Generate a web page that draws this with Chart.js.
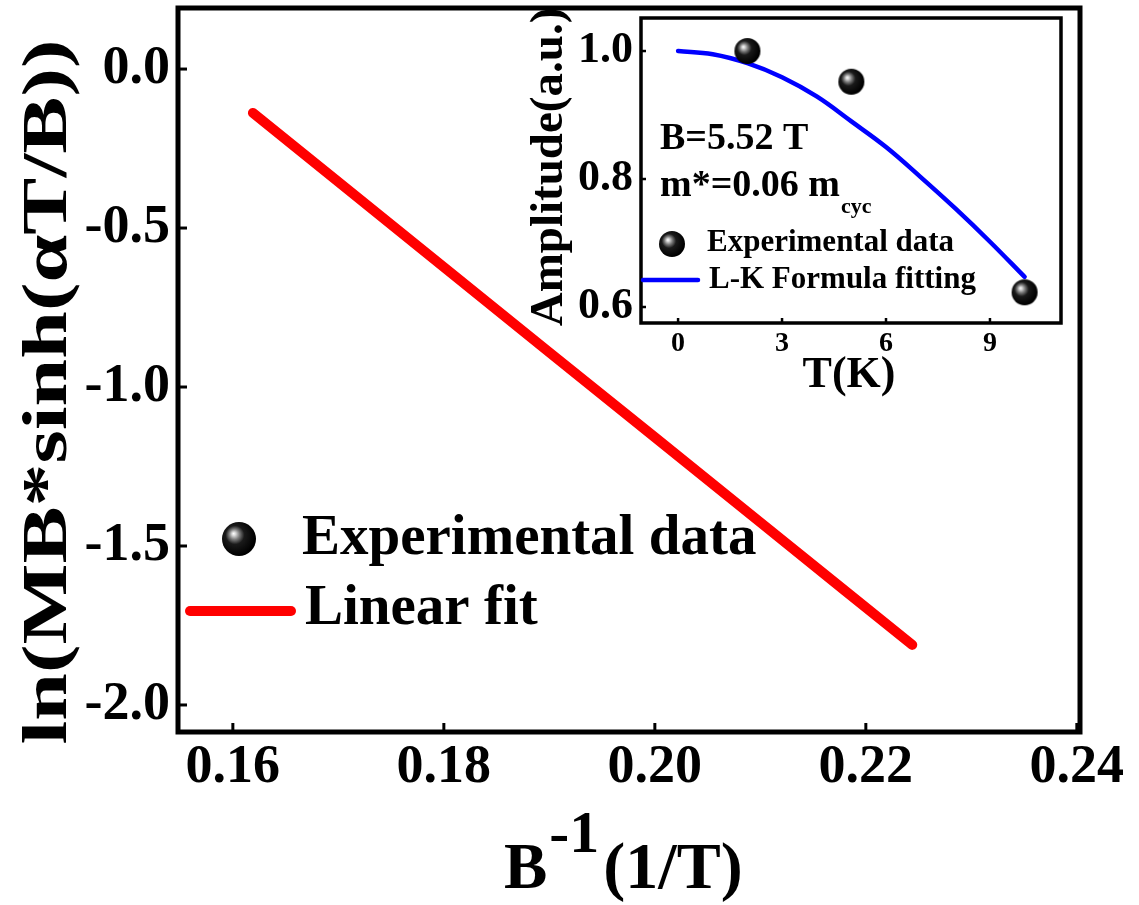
<!DOCTYPE html>
<html><head><meta charset="utf-8">
<script src="https://cdn.jsdelivr.net/npm/chart.js@4.4.1/dist/chart.umd.min.js"></script>
<style>
html,body{margin:0;padding:0;background:#fff;}
#wrap{position:relative;width:1139px;height:905px;overflow:hidden;}
#main{position:absolute;left:0;top:0;}
#insetBox{position:absolute;left:500px;top:0;width:600px;height:420px;}
</style></head><body>
<div id="wrap">
<canvas id="main" width="1139" height="905"></canvas>
<div id="insetBox"><canvas id="inset" width="600" height="420"></canvas></div>
</div>
<script>
// ---------- data ----------
const fitInvB = [0.1619, 0.1700, 0.1800, 0.1900, 0.2000, 0.2100, 0.2180, 0.2244];
const fitLn   = [-0.138, -0.355, -0.623, -0.891, -1.158, -1.426, -1.640, -1.811];
const expInvB = [];
const expLn   = [];
const mainXTicks = [0.16, 0.18, 0.20, 0.22, 0.24];
const mainYTicks = [0.0, -0.5, -1.0, -1.5, -2.0];

const insetExpT   = [2, 5, 10];
const insetExpAmp = [1.0, 0.952, 0.623];
const insetFitT   = [0, 1, 2, 3, 4, 5, 6, 7, 8, 9, 10];
const insetFitAmp = [1.0, 0.995, 0.981, 0.959, 0.929, 0.890, 0.850, 0.803, 0.754, 0.702, 0.647];
const insetXTicks = [0, 3, 6, 9];
const insetYTicks = [0.6, 0.8, 1.0];

const FONT = "'Liberation Serif','Times New Roman',serif";

function makeSphere(r){
  const s = Math.ceil(2*r+2);
  const c = document.createElement('canvas'); c.width = s; c.height = s;
  const g = c.getContext('2d'); const cx = s/2, cy = s/2;
  const grad = g.createRadialGradient(cx-0.32*r, cy-0.32*r, 0, cx-0.15*r, cy-0.15*r, r*1.1);
  grad.addColorStop(0, '#ffffff');
  grad.addColorStop(0.1, '#d8d8d8');
  grad.addColorStop(0.28, '#7a7a7a');
  grad.addColorStop(0.5, '#1a1a1a');
  grad.addColorStop(1, '#000000');
  g.fillStyle = grad; g.beginPath(); g.arc(cx, cy, r, 0, 2*Math.PI); g.fill();
  return c;
}
const sphereBig = makeSphere(17);
const sphereSmall = makeSphere(13);

const pts = (xs, ys) => xs.map((x, i) => ({x, y: ys[i]}));
const noPadX = s => { s.paddingLeft = 0; s.paddingRight = 0; };
const noPadY = s => { s.paddingTop = 0; s.paddingBottom = 0; };

// frame + inward ticks
const framePlugin = {
  id: 'frame',
  afterDraw(chart, args, o){
    const {ctx, chartArea: a, scales: {x, y}} = chart;
    ctx.save();
    ctx.strokeStyle = '#000';
    ctx.lineWidth = o.tw;
    x.ticks.forEach(t => { const px = x.getPixelForValue(t.value);
      ctx.beginPath(); ctx.moveTo(px, a.bottom); ctx.lineTo(px, a.bottom - o.tl); ctx.stroke(); });
    y.ticks.forEach(t => { const py = y.getPixelForValue(t.value);
      ctx.beginPath(); ctx.moveTo(a.left, py); ctx.lineTo(a.left + o.tl, py); ctx.stroke(); });
    ctx.lineWidth = o.lw;
    ctx.strokeRect(a.left, a.top, a.right - a.left, a.bottom - a.top);
    ctx.restore();
  }
};

// legend drawn from datasets
const legendPlugin = {
  id: 'customLegend',
  afterDraw(chart, args, o){
    const ctx = chart.ctx;
    ctx.save();
    ctx.fillStyle = '#000';
    ctx.font = `bold ${o.size}px ${FONT}`;
    ctx.textBaseline = 'alphabetic';
    chart.data.datasets.forEach((ds, i) => {
      const it = o.items[i];
      if (ds.showLine) {
        ctx.strokeStyle = ds.borderColor; ctx.lineWidth = ds.borderWidth; ctx.lineCap = 'round';
        ctx.beginPath(); ctx.moveTo(it.x0, it.y); ctx.lineTo(it.x1, it.y); ctx.stroke();
      } else {
        const img = ds.pointStyle;
        ctx.drawImage(img, it.cx - img.width/2, it.cy - img.height/2);
      }
      ctx.fillText(ds.label, it.tx, it.ty);
    });
    ctx.restore();
  }
};

// free texts (titles, annotations)
const textPlugin = {
  id: 'texts',
  afterDraw(chart, args, o){
    const ctx = chart.ctx;
    ctx.save();
    ctx.fillStyle = '#000';
    o.items.forEach(t => {
      ctx.save();
      ctx.font = `bold ${t.size}px ${FONT}`;
      ctx.textBaseline = 'alphabetic';
      ctx.translate(t.x, t.y);
      if (t.rot) ctx.rotate(t.rot);
      if (t.len) {
        const w = ctx.measureText(t.text).width;
        ctx.scale(t.len / w, 1);
      }
      ctx.textAlign = t.align || 'left';
      ctx.fillText(t.text, 0, 0);
      ctx.restore();
    });
    if (o.runs) {
      o.runs.forEach(r => {
        let x = r.x;
        r.parts.forEach(p => {
          ctx.font = `bold ${p.size}px ${FONT}`;
          ctx.textBaseline = 'alphabetic';
          ctx.textAlign = 'left';
          ctx.fillText(p.text, x + (p.dx || 0), r.y + (p.dy || 0));
          x += ctx.measureText(p.text).width + (p.dx || 0);
        });
      });
    }
    ctx.restore();
  }
};

// ---------- main chart ----------
new Chart(document.getElementById('main'), {
  type: 'scatter',
  data: {
    datasets: [
      {label: 'Experimental data', data: pts(expInvB, expLn), pointStyle: sphereBig, showLine: false},
      {label: 'Linear fit', data: pts(fitInvB, fitLn), showLine: true, borderColor: '#ff0000',
       borderWidth: 10, pointRadius: 0, borderCapStyle: 'round', borderJoinStyle: 'round', tension: 0}
    ]
  },
  options: {
    responsive: false, animation: false, devicePixelRatio: 1,
    layout: {padding: {left: 0, top: 8, right: 59, bottom: 0}},
    plugins: {
      legend: {display: false}, tooltip: {enabled: false},
      frame: {lw: 5, tw: 3, tl: 9},
      customLegend: {size: 57, items: [
        {cx: 239, cy: 539, tx: 302, ty: 554},
        {x0: 190, x1: 291, y: 611, tx: 305, ty: 624}
      ]},
      texts: {
        items: [
          {text: 'ln(MB*sinh(\u03B1T/B))', x: 66, y: 392, size: 64, rot: -Math.PI/2, align: 'center', len: 705}
        ],
        runs: [
          {x: 504, y: 888, parts: [
            {text: 'B', size: 65},
            {text: '-1', size: 60, dy: -36, dx: 2},
            {text: '(1/T)', size: 66, dx: 4}
          ]}
        ]
      }
    },
    scales: {
      x: {
        type: 'linear', min: 0.1548, max: 0.2403,
        grid: {display: false, drawTicks: false}, border: {display: false},
        afterBuildTicks: s => { s.ticks = mainXTicks.map(v => ({value: v})); },
        afterFit: s => { s.height = 173; noPadX(s); },
        ticks: {font: {family: FONT, size: 54, weight: 'bold'}, color: '#000', padding: 4,
                maxRotation: 0, autoSkip: false, callback: v => Number(v).toFixed(2)}
      },
      y: {
        type: 'linear', min: -2.085, max: 0.192,
        grid: {display: false, drawTicks: false}, border: {display: false},
        afterBuildTicks: s => { s.ticks = mainYTicks.map(v => ({value: v})); },
        afterFit: s => { s.width = 178; noPadY(s); },
        ticks: {font: {family: FONT, size: 54, weight: 'bold'}, color: '#000', padding: 8,
                autoSkip: false, callback: v => Number(v).toFixed(1)}
      }
    }
  },
  plugins: [framePlugin, legendPlugin, textPlugin]
});

// ---------- inset chart ----------
new Chart(document.getElementById('inset'), {
  type: 'scatter',
  data: {
    datasets: [
      {label: 'Experimental data', data: pts(insetExpT, insetExpAmp), pointStyle: sphereSmall, showLine: false, pointRadius: 13},
      {label: 'L-K Formula fitting', data: pts(insetFitT, insetFitAmp), showLine: true, borderColor: '#0000ff',
       borderWidth: 4.5, pointRadius: 0, tension: 0.4, borderCapStyle: 'round'}
    ]
  },
  options: {
    responsive: false, animation: false, devicePixelRatio: 1,
    layout: {padding: {left: 0, top: 18, right: 39, bottom: 0}},
    plugins: {
      legend: {display: false}, tooltip: {enabled: false},
      frame: {lw: 3.5, tw: 2.5, tl: 5},
      customLegend: {size: 31, items: [
        {cx: 172, cy: 244, tx: 207, ty: 251},
        {x0: 143, x1: 198, y: 280, tx: 209, ty: 288}
      ]},
      texts: {
        items: [
          {text: 'Amplitude(a.u.)', x: 62, y: 167, size: 47, rot: -Math.PI/2, align: 'center'},
          {text: 'T(K)', x: 349, y: 387, size: 44, align: 'center'},
          {text: 'B=5.52 T', x: 160, y: 149, size: 38}
        ],
        runs: [
          {x: 160, y: 196, parts: [
            {text: 'm*=0.06 m', size: 38},
            {text: 'cyc', size: 22, dy: 17, dx: 1}
          ]}
        ]
      }
    },
    scales: {
      x: {
        type: 'linear', min: -1.07, max: 11.05,
        grid: {display: false, drawTicks: false}, border: {display: false},
        afterBuildTicks: s => { s.ticks = insetXTicks.map(v => ({value: v})); },
        afterFit: s => { s.height = 97; noPadX(s); },
        ticks: {font: {family: FONT, size: 28, weight: 'bold'}, color: '#000', padding: 4,
                maxRotation: 0, autoSkip: false, callback: v => String(v)}
      },
      y: {
        type: 'linear', min: 0.575, max: 1.0516,
        grid: {display: false, drawTicks: false}, border: {display: false},
        afterBuildTicks: s => { s.ticks = insetYTicks.map(v => ({value: v})); },
        afterFit: s => { s.width = 141; noPadY(s); },
        ticks: {font: {family: FONT, size: 44, weight: 'bold'}, color: '#000', padding: 8,
                autoSkip: false, callback: v => Number(v).toFixed(1)}
      }
    }
  },
  plugins: [framePlugin, legendPlugin, textPlugin]
});
</script>
</body></html>
